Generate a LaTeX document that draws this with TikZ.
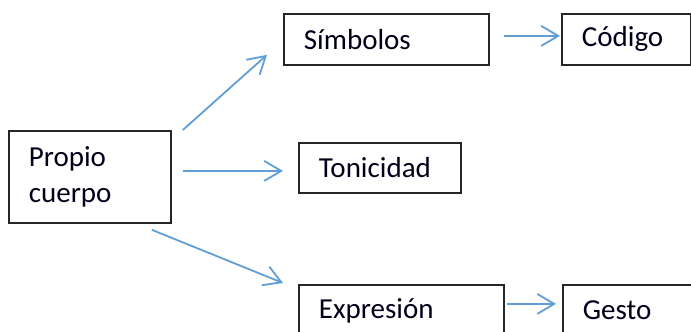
\documentclass[tikz,border=0pt]{standalone}
\usepackage{fontspec}
\setmainfont{Carlito}
\usepackage{tikz}
\usetikzlibrary{positioning}
\usetikzlibrary{arrows.meta}
\definecolor{arrowblue}{RGB}{98,158,214}
\colorlet{boxcol}{black!85}
\tikzset{>=latex}

\begin{document}
\begin{tikzpicture}[x=1pt, y=-1pt,
    box/.style={draw=boxcol, line width=1.8pt, anchor=north west, align=left,
      inner xsep=20pt, inner ysep=0pt, text=black!90!blue, font=\fontsize{29}{36}\selectfont},
    arr/.style={-{Straight Barb[length=17pt, width=20pt]}, draw=arrowblue, line width=1.8pt}]
  \useasboundingbox (0,0) rectangle (691,332);

  % Boxes
  \node[box, minimum height=92pt, text width=122pt] (body) at (8,130) {Propio\\cuerpo};
  \node[box, minimum height=51pt, text width=165pt] (simb) at (283,13) {Símbolos};
  \node[box, minimum height=51pt, text width=89pt] (cod) at (561,13) {Código};
  \node[box, minimum height=50pt, text width=122pt] (toni) at (298,142) {Tonicidad};
  \node[box, minimum height=51pt, text width=165pt] (expr) at (298,284) {Expresión};
  \node[box, minimum height=51pt, text width=100pt] (gesto) at (562,284) {Gesto};

  % Arrows
  \draw[arr] ([xshift=11pt]body.north east) -- ([xshift=-16pt, yshift=11pt]simb.south west);
  \draw[arr] ([xshift=11pt, yshift=6pt]body.east) -- ([xshift=-15pt, yshift=-3pt]toni.west);
  \draw[arr] ([xshift=-20pt, yshift=-6pt]body.south east) -- ([xshift=-15pt, yshift=1pt]expr.north west);
  \draw[arr] ([xshift=14pt, yshift=3.5pt]simb.east) -- ([xshift=-1pt, yshift=3.5pt]cod.west);
  \draw[arr] ([xshift=2pt, yshift=6.5pt]expr.east) -- ([xshift=-6pt, yshift=6.5pt]gesto.west);

\end{tikzpicture}
\end{document}
